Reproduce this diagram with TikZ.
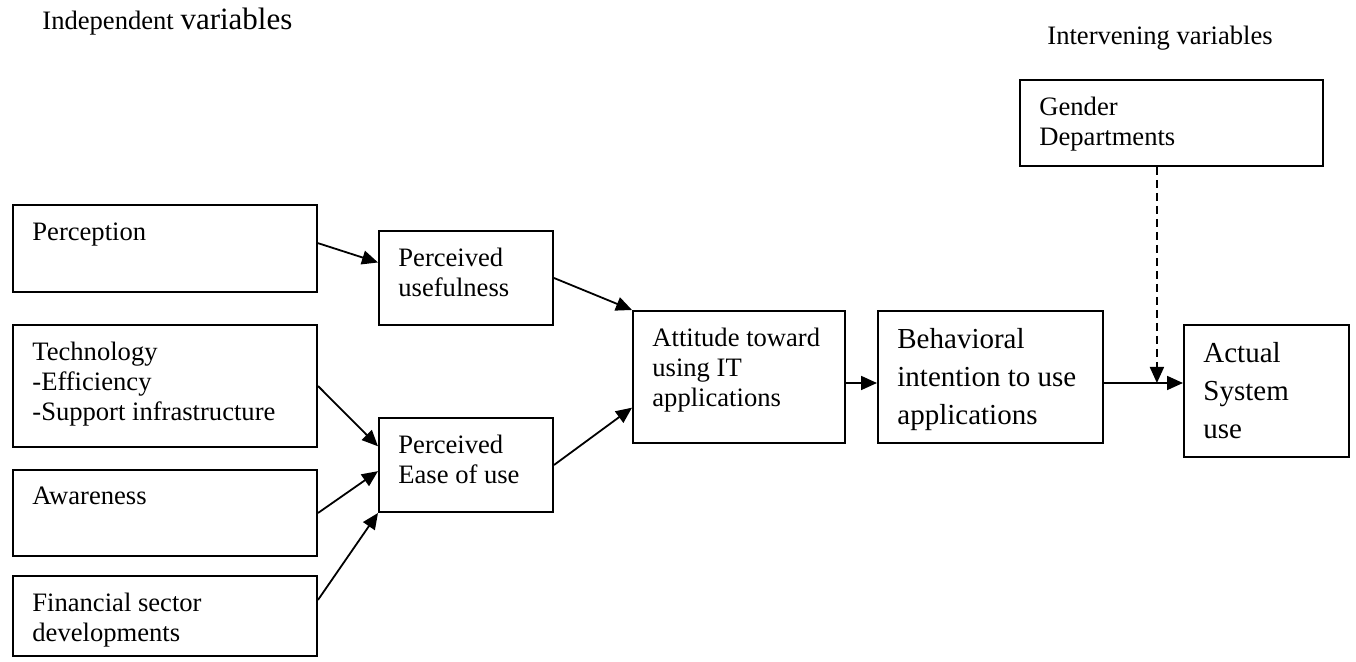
\documentclass[tikz,border=0pt]{standalone}
\usepackage{fontspec}
\setmainfont{Liberation Serif}
\usetikzlibrary{arrows.meta, calc}
\newcommand{\smallfont}{\fontsize{13.3}{15}\selectfont}
\newcommand{\bigfont}{\fontsize{14.5}{19}\selectfont}
\tikzset{>={Triangle[length=8pt,width=7pt]}}
\tikzset{
  boxtext/.style={anchor=north west, inner xsep=10pt, inner ysep=9pt, align=left},
  boxframe/.style 2 args={draw, line width=1pt, anchor=north west, minimum width=#1, minimum height=#2},
  varbox/.style n args={3}{boxframe={#1}{#2}, label={[boxtext, font=\smallfont]north west:#3}},
  bigbox/.style n args={3}{boxframe={#1}{#2}, label={[boxtext, font=\bigfont]north west:#3}},
  link/.style={->, line width=0.9pt},
}

\begin{document}
\begin{tikzpicture}[x=0.5pt, y=-0.5pt]
    \useasboundingbox (0,0) rectangle (1356,662);
    % headings
    \node[anchor=base west, inner sep=0, font=\smallfont] (indep) at (42,30) {Independent {\fontsize{15.5}{17}\selectfont variables}};
    \node[anchor=base west, inner sep=0, font=\smallfont] (interv) at (1047,45) {Intervening variables};
    % independent variables
    \node[varbox={152pt}{43.5pt}{Perception}] (perc) at (12,204) {};
    \node[varbox={152pt}{61pt}{Technology\\-Efficiency\\-Support infrastructure}] (tech) at (12,324) {};
    \node[varbox={152pt}{43pt}{Awareness}] (aware) at (12,469) {};
    \node[varbox={152pt}{40pt}{Financial sector\\developments}] (fin) at (12,575) {};
    % TAM constructs
    \node[varbox={87pt}{47pt}{Perceived\\usefulness}] (pu) at (378,230) {};
    \node[varbox={87pt}{47pt}{Perceived\\Ease of use}] (peu) at (378,417) {};
    \node[varbox={106pt}{66pt}{Attitude toward\\using IT\\applications}] (att) at (632,310) {};
    \node[bigbox={112.5pt}{66pt}{Behavioral\\intention to use\\applications}] (beh) at (877,310) {};
    \node[bigbox={82.5pt}{66pt}{Actual\\System\\use}] (act) at (1183,324) {};
    % intervening variables
    \node[varbox={151.5pt}{43pt}{Gender\\Departments}] (gen) at (1019,79) {};
    % links
    \draw[link] (perc.2) -- (pu.170);
    \draw[link] (tech.east) -- (peu.168);
    \draw[link] (aware.east) -- (peu.184);
    \draw[link] (fin.6) -- (peu.south west);
    \draw[link] (pu.east) -- (att.north west);
    \draw[link] (peu.east) -- (att.196);
    \draw[link] ([yshift=-3pt]att.east) -- ([yshift=-3pt]beh.west);
    \draw[link] ([yshift=-3pt]beh.east) -- ([yshift=-3pt]beh.east -| act.west);
    \coordinate (join) at ($([yshift=-3pt]beh.east)!.67!([yshift=-3pt]beh.east -| act.west)$);
    \draw[link, dash pattern=on 4pt off 2.5pt] (gen.south -| join) -- (join);
\end{tikzpicture}
\end{document}
